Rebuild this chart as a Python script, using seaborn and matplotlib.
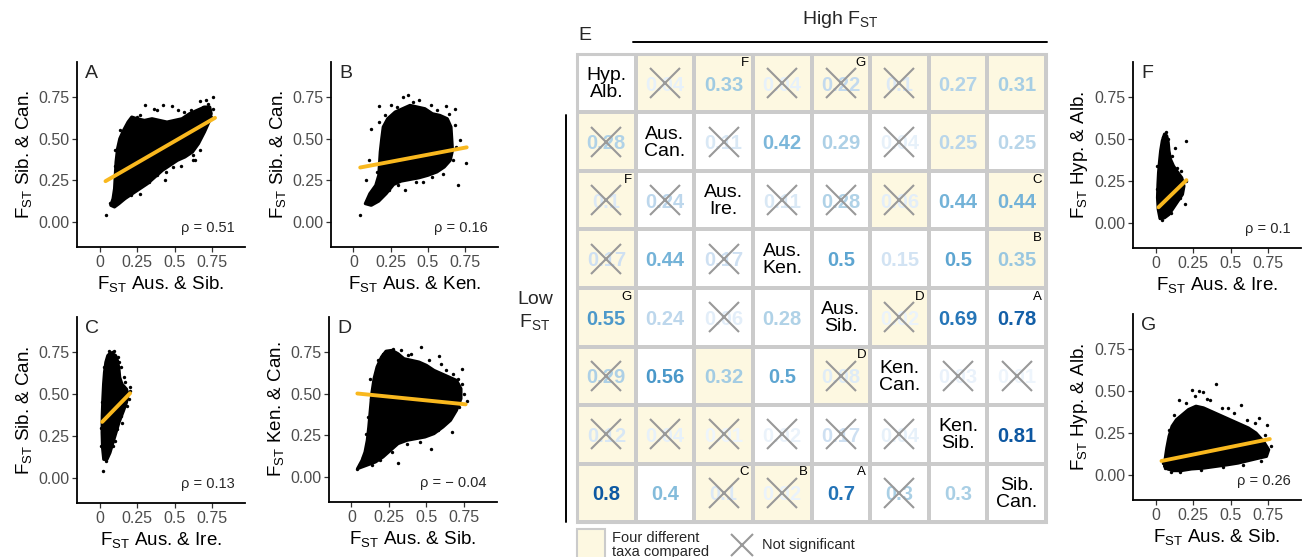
import numpy as np
import pandas as pd
import matplotlib
matplotlib.use("Agg")
import matplotlib.pyplot as plt
import seaborn as sns
from matplotlib.colors import ListedColormap
from matplotlib.patches import Rectangle
from matplotlib.lines import Line2D

# ---------------- data: comparison matrix (panel E) ----------------
pair_labels = ["Hyp.\nAlb.", "Aus.\nCan.", "Aus.\nIre.", "Aus.\nKen.",
               "Aus.\nSib.", "Ken.\nCan.", "Ken.\nSib.", "Sib.\nCan."]
nan = np.nan
rho_values = [
    [nan, 0.04, 0.33, 0.04, 0.22, 0.1, 0.27, 0.31],
    [0.28, nan, 0.11, 0.42, 0.29, 0.04, 0.25, 0.25],
    [0.1, 0.24, nan, 0.11, 0.28, 0.06, 0.44, 0.44],
    [0.17, 0.44, 0.17, nan, 0.5, 0.15, 0.5, 0.35],
    [0.55, 0.24, 0.06, 0.28, nan, 0.02, 0.69, 0.78],
    [0.29, 0.56, 0.32, 0.5, 0.08, nan, 0.03, 0.01],
    [0.12, 0.04, 0.01, 0.02, 0.17, 0.04, nan, 0.81],
    [0.8, 0.4, 0.1, 0.02, 0.7, 0.3, 0.3, nan],
]
not_significant = [
    [0, 1, 0, 1, 1, 1, 0, 0],
    [1, 0, 1, 0, 0, 1, 0, 0],
    [1, 1, 0, 1, 1, 1, 0, 0],
    [1, 0, 1, 0, 0, 0, 0, 0],
    [0, 0, 1, 0, 0, 1, 0, 0],
    [1, 0, 0, 0, 1, 0, 1, 1],
    [1, 1, 1, 1, 1, 1, 0, 0],
    [0, 0, 1, 1, 0, 1, 0, 0],
]
four_taxa = [
    [0, 1, 1, 1, 1, 1, 1, 1],
    [1, 0, 0, 0, 0, 0, 1, 0],
    [1, 0, 0, 0, 0, 1, 0, 1],
    [1, 0, 0, 0, 0, 0, 0, 1],
    [1, 0, 0, 0, 0, 1, 0, 0],
    [1, 0, 1, 0, 1, 0, 0, 0],
    [1, 1, 1, 0, 0, 0, 0, 0],
    [1, 0, 1, 1, 0, 0, 0, 0],
]
panel_tags = {(0, 2): "F", (0, 4): "G", (2, 0): "F", (2, 7): "C", (3, 7): "B",
              (4, 0): "G", (4, 5): "D", (4, 7): "A", (5, 4): "D",
              (7, 2): "C", (7, 3): "B", (7, 4): "A"}

# ---------------- data: scatter panels (dense-cloud outline, sparse edge points, fitted line) ----------------
A_cloud_x = [0.075, 0.09, 0.10, 0.105, 0.11, 0.12, 0.135, 0.16, 0.19, 0.215, 0.25, 0.30, 0.35, 0.40, 0.45,
             0.50, 0.55, 0.60, 0.65, 0.70, 0.735, 0.745, 0.73, 0.70, 0.66, 0.62, 0.57, 0.52, 0.47, 0.42,
             0.37, 0.32, 0.27, 0.22, 0.17, 0.13, 0.10]
A_cloud_y = [0.10, 0.14, 0.20, 0.28, 0.36, 0.44, 0.50, 0.55, 0.60, 0.63, 0.62, 0.61, 0.62, 0.61, 0.60,
             0.61, 0.62, 0.65, 0.67, 0.69, 0.69, 0.65, 0.60, 0.54, 0.47, 0.42, 0.39, 0.37, 0.34, 0.31,
             0.27, 0.23, 0.20, 0.17, 0.14, 0.11, 0.09]
A_pts_x = [0.04, 0.073, 0.194, 0.305, 0.426, 0.481, 0.669, 0.757, 0.713, 0.625, 0.437, 0.27, 0.106, 0.58,
           0.117, 0.36, 0.52, 0.25, 0.62, 0.27, 0.38, 0.56, 0.61, 0.69, 0.72, 0.67, 0.635, 0.546, 0.49,
           0.38, 0.227, 0.16, 0.117, 0.084, 0.095, 0.106, 0.139, 0.21, 0.33, 0.44, 0.64, 0.74, 0.755]
A_pts_y = [0.042, 0.115, 0.605, 0.70, 0.70, 0.694, 0.724, 0.75, 0.73, 0.373, 0.25, 0.17, 0.333, 0.413,
           0.155, 0.68, 0.67, 0.63, 0.40, 0.64, 0.67, 0.66, 0.67, 0.69, 0.71, 0.43, 0.373, 0.333, 0.33,
           0.284, 0.214, 0.145, 0.125, 0.105, 0.274, 0.433, 0.55, 0.16, 0.24, 0.30, 0.49, 0.63, 0.68]
A_fit_x = [0.04, 0.77]
A_fit_y = [0.245, 0.625]

B_cloud_x = [0.08, 0.11, 0.15, 0.17, 0.175, 0.18, 0.19, 0.20, 0.23, 0.28, 0.33, 0.38, 0.43, 0.48, 0.53,
             0.58, 0.63, 0.655, 0.66, 0.665, 0.65, 0.61, 0.56, 0.50, 0.44, 0.38, 0.32, 0.27, 0.22, 0.17, 0.12]
B_cloud_y = [0.11, 0.17, 0.22, 0.28, 0.35, 0.42, 0.50, 0.57, 0.62, 0.66, 0.68, 0.70, 0.69, 0.68, 0.65,
             0.64, 0.62, 0.57, 0.50, 0.43, 0.37, 0.33, 0.30, 0.28, 0.265, 0.255, 0.245, 0.225, 0.17, 0.125, 0.10]
B_pts_x = [0.042, 0.116, 0.172, 0.336, 0.368, 0.441, 0.62, 0.683, 0.714, 0.756, 0.704, 0.347, 0.084, 0.105,
           0.25, 0.52, 0.47, 0.21, 0.29, 0.40, 0.56, 0.64, 0.68, 0.69, 0.67, 0.60, 0.53, 0.42, 0.30, 0.24,
           0.13, 0.10, 0.16, 0.19, 0.17]
B_pts_y = [0.042, 0.557, 0.696, 0.75, 0.76, 0.73, 0.694, 0.68, 0.492, 0.353, 0.224, 0.194, 0.254, 0.373,
           0.70, 0.70, 0.24, 0.64, 0.69, 0.72, 0.67, 0.65, 0.58, 0.45, 0.37, 0.29, 0.27, 0.24, 0.22, 0.19,
           0.14, 0.12, 0.30, 0.44, 0.60]
B_fit_x = [0.046, 0.76]
B_fit_y = [0.327, 0.448]

C_cloud_x = [0.028, 0.02, 0.017, 0.018, 0.022, 0.027, 0.033, 0.042, 0.055, 0.072, 0.09, 0.108, 0.12, 0.13,
             0.135, 0.15, 0.18, 0.19, 0.18, 0.16, 0.13, 0.11, 0.09, 0.07, 0.05]
C_cloud_y = [0.11, 0.18, 0.27, 0.37, 0.47, 0.56, 0.63, 0.69, 0.73, 0.745, 0.74, 0.73, 0.70, 0.65,
             0.60, 0.56, 0.53, 0.50, 0.45, 0.40, 0.33, 0.27, 0.21, 0.15, 0.11]
C_pts_x = [0.024, 0.094, 0.133, 0.204, 0.182, 0.105, 0.007, 0.16, 0.15, 0.06, 0.08, 0.12, 0.145, 0.17,
           0.20, 0.195, 0.14, 0.115, 0.09, 0.045, 0.012, 0.014, 0.03]
C_pts_y = [0.04, 0.758, 0.69, 0.54, 0.43, 0.222, 0.192, 0.60, 0.33, 0.755, 0.75, 0.72, 0.66, 0.57,
           0.52, 0.47, 0.37, 0.29, 0.19, 0.10, 0.30, 0.45, 0.66]
C_fit_x = [0.018, 0.204]
C_fit_y = [0.334, 0.505]

D_cloud_x = [0.04, 0.07, 0.09, 0.105, 0.115, 0.125, 0.135, 0.15, 0.17, 0.20, 0.23, 0.27, 0.31, 0.35, 0.40,
             0.45, 0.50, 0.55, 0.60, 0.65, 0.70, 0.73, 0.73, 0.70, 0.66, 0.61, 0.55, 0.49, 0.43, 0.37,
             0.31, 0.26, 0.21, 0.16, 0.10]
D_cloud_y = [0.05, 0.10, 0.15, 0.22, 0.30, 0.40, 0.50, 0.59, 0.66, 0.72, 0.755, 0.76, 0.74, 0.71, 0.70,
             0.69, 0.67, 0.64, 0.62, 0.60, 0.58, 0.53, 0.47, 0.40, 0.34, 0.30, 0.26, 0.24, 0.23, 0.22,
             0.20, 0.16, 0.12, 0.09, 0.07]
D_pts_x = [0.039, 0.311, 0.463, 0.583, 0.735, 0.713, 0.767, 0.67, 0.528, 0.159, 0.126, 0.274, 0.60, 0.40,
           0.10, 0.11, 0.13, 0.18, 0.21, 0.33, 0.38, 0.52, 0.63, 0.68, 0.74, 0.75, 0.72, 0.64, 0.58, 0.46,
           0.37, 0.27, 0.19, 0.14, 0.08, 0.06]
D_pts_y = [0.046, 0.087, 0.78, 0.725, 0.65, 0.586, 0.457, 0.27, 0.17, 0.527, 0.586, 0.768, 0.68, 0.74,
           0.26, 0.36, 0.47, 0.70, 0.74, 0.76, 0.73, 0.70, 0.64, 0.62, 0.56, 0.50, 0.42, 0.34, 0.28, 0.21,
           0.20, 0.15, 0.10, 0.07, 0.12, 0.08]
D_fit_x = [0.039, 0.761]
D_fit_y = [0.501, 0.436]

F_cloud_x = [0.03, 0.018, 0.013, 0.016, 0.02, 0.027, 0.034, 0.045, 0.06, 0.075, 0.085, 0.09, 0.10, 0.12,
             0.15, 0.175, 0.19, 0.18, 0.15, 0.12, 0.09, 0.06]
F_cloud_y = [0.025, 0.08, 0.15, 0.23, 0.30, 0.37, 0.43, 0.49, 0.53, 0.52, 0.48, 0.43, 0.38, 0.34,
             0.30, 0.27, 0.22, 0.17, 0.13, 0.09, 0.05, 0.03]
F_pts_x = [0.2, 0.129, 0.195, 0.14, 0.07, 0.16, 0.05, 0.08, 0.11, 0.17, 0.20, 0.16, 0.10, 0.04, 0.01, 0.012]
F_pts_y = [0.489, 0.446, 0.113, 0.33, 0.545, 0.24, 0.51, 0.50, 0.40, 0.31, 0.25, 0.15, 0.06, 0.02, 0.20, 0.34]
F_fit_x = [0.02, 0.206]
F_fit_y = [0.093, 0.255]

G_cloud_x = [0.06, 0.065, 0.075, 0.09, 0.11, 0.14, 0.18, 0.22, 0.27, 0.32, 0.37, 0.42, 0.47, 0.52, 0.57,
             0.62, 0.67, 0.72, 0.755, 0.74, 0.69, 0.62, 0.55, 0.48, 0.40, 0.32, 0.24, 0.17, 0.12, 0.08]
G_cloud_y = [0.05, 0.10, 0.16, 0.23, 0.29, 0.33, 0.36, 0.39, 0.41, 0.40, 0.38, 0.36, 0.34, 0.32, 0.30,
             0.28, 0.25, 0.20, 0.15, 0.11, 0.10, 0.085, 0.07, 0.06, 0.05, 0.04, 0.035, 0.025, 0.025, 0.035]
G_pts_x = [0.155, 0.24, 0.316, 0.404, 0.57, 0.69, 0.746, 0.062, 0.36, 0.29, 0.48, 0.12, 0.09, 0.20, 0.26,
           0.34, 0.44, 0.52, 0.61, 0.66, 0.73, 0.77, 0.70, 0.58, 0.45, 0.30, 0.16, 0.10, 0.05]
G_pts_y = [0.446, 0.506, 0.496, 0.542, 0.417, 0.337, 0.298, 0.04, 0.446, 0.50, 0.40, 0.36, 0.27, 0.43,
           0.47, 0.45, 0.40, 0.37, 0.33, 0.31, 0.24, 0.17, 0.08, 0.06, 0.045, 0.03, 0.02, 0.015, 0.07]
G_fit_x = [0.04, 0.762]
G_fit_y = [0.083, 0.214]

x_ticks = [0, 0.25, 0.5, 0.75]
x_tick_labels = ["0", "0.25", "0.5", "0.75"]
y_ticks = [0, 0.25, 0.5, 0.75]
y_tick_labels = ["0.00", "0.25", "0.50", "0.75"]

FST = r"F$_{\mathrm{ST}}$"

# ---------------- style ----------------
sns.set_theme(style="ticks")
plt.rcParams["font.family"] = ["Liberation Sans", "DejaVu Sans"]
plt.rcParams["mathtext.fontset"] = "custom"
plt.rcParams["mathtext.rm"] = "Liberation Sans"
plt.rcParams["mathtext.it"] = "Liberation Sans:italic"
plt.rcParams["mathtext.bf"] = "Liberation Sans:bold"

W, H = 1305, 557
fig = plt.figure(figsize=(W / 100, H / 100), dpi=100)


def px_rect(l, t, r, b):
    return [l / W, 1 - b / H, (r - l) / W, (b - t) / H]


def scatter_panel(rect, letter, cx, cy, px_, py_, fx, fy, rho, xlab, ylab):
    ax = fig.add_axes(rect)
    ax.fill(cx, cy, color="black", lw=2.2, ec="black", joinstyle="round", zorder=2)
    sns.scatterplot(x=px_, y=py_, color="black", s=6, linewidth=0, ax=ax, zorder=3)
    sns.lineplot(x=fx, y=fy, color="#f9b81e", lw=2.8, ax=ax, zorder=4)
    ax.set_xlim(-0.15, 0.97)
    ax.set_ylim(-0.15, 0.96)
    ax.set_xticks(x_ticks)
    ax.set_xticklabels(x_tick_labels)
    ax.set_yticks(y_ticks)
    ax.set_yticklabels(y_tick_labels)
    sns.despine(ax=ax)
    for s in ["left", "bottom"]:
        ax.spines[s].set_linewidth(1.3)
        ax.spines[s].set_color("black")
    ax.tick_params(length=3.5, width=0.9, color="#333333", labelsize=11.5,
                   labelcolor="#4d4d4d", pad=2, left=True, bottom=True)
    ax.set_xlabel(FST + " " + xlab, fontsize=13.5, labelpad=3, color="black")
    ax.set_ylabel(FST + " " + ylab, fontsize=13.5, labelpad=3, color="black")
    ax.text(0.05, 0.985, letter, transform=ax.transAxes, fontsize=14, va="top", ha="left")
    ax.text(0.94, 0.065, rho, transform=ax.transAxes, fontsize=10.5, ha="right", va="bottom")
    return ax


scatter_panel(px_rect(77, 62, 245, 247), "A", A_cloud_x, A_cloud_y, A_pts_x, A_pts_y,
              A_fit_x, A_fit_y, "ρ = 0.51", "Aus. & Sib.", "Sib. & Can.")
scatter_panel(px_rect(331, 62, 498, 247), "B", B_cloud_x, B_cloud_y, B_pts_x, B_pts_y,
              B_fit_x, B_fit_y, "ρ = 0.16", "Aus. & Ken.", "Sib. & Can.")
scatter_panel(px_rect(77, 317, 245, 503), "C", C_cloud_x, C_cloud_y, C_pts_x, C_pts_y,
              C_fit_x, C_fit_y, "ρ = 0.13", "Aus. & Ire.", "Sib. & Can.")
scatter_panel(px_rect(329, 317, 497, 502), "D", D_cloud_x, D_cloud_y, D_pts_x, D_pts_y,
              D_fit_x, D_fit_y, "ρ = − 0.04", "Aus. & Sib.", "Ken. & Can.")
scatter_panel(px_rect(1133, 62, 1301, 248), "F", F_cloud_x, F_cloud_y, F_pts_x, F_pts_y,
              F_fit_x, F_fit_y, "ρ = 0.1", "Aus. & Ire.", "Hyp. & Alb.")
scatter_panel(px_rect(1133, 314, 1301, 500), "G", G_cloud_x, G_cloud_y, G_pts_x, G_pts_y,
              G_fit_x, G_fit_y, "ρ = 0.26", "Aus. & Sib.", "Hyp. & Alb.")

# ---------------- panel E: matrix ----------------
axE = fig.add_axes(px_rect(577, 54, 1046, 522))
bg = pd.DataFrame(four_taxa)
sns.heatmap(bg, cmap=ListedColormap(["white", "#fdf8e1"]), vmin=0, vmax=1, cbar=False,
            linewidths=1.6, linecolor="#cbcbcb", xticklabels=False, yticklabels=False,
            square=False, ax=axE)
axE.add_patch(Rectangle((0, 0), 8, 8, fill=False, ec="#cbcbcb", lw=2.2, clip_on=False, zorder=5))
blues = plt.get_cmap("Blues")
n = len(pair_labels)
for i in range(n):
    for j in range(n):
        if i == j:
            axE.text(j + 0.5, i + 0.52, pair_labels[i], ha="center", va="center",
                     fontsize=14, linespacing=1.0, color="black")
            continue
        v = rho_values[i][j]
        col = blues(min(0.04 + v, 1.0))
        axE.text(j + 0.5, i + 0.53, f"{v:g}", ha="center", va="center", fontsize=14.5,
                 fontweight="bold", color=col, zorder=3)
        if not_significant[i][j]:
            axE.plot([j + 0.5], [i + 0.5], marker="x", ms=22, mew=1.5, color="#999999", zorder=4)
        if (i, j) in panel_tags:
            axE.text(j + 0.93, i + 0.05, panel_tags[(i, j)], ha="right", va="top",
                     fontsize=9.5, color="black", zorder=5)

# annotations around panel E
fig.text(578 / W, 1 - 36 / H, "E", fontsize=14, ha="left", va="center")
fig.text(840 / W, 1 - 19 / H, "High " + FST, fontsize=14, ha="center", va="center")
fig.add_artist(Line2D([633 / W, 1047 / W], [1 - 42 / H, 1 - 42 / H], color="black", lw=1.4))
fig.text(535 / W, 1 - 299 / H, "Low", fontsize=14, ha="center", va="center")
fig.text(535 / W, 1 - 322 / H, FST, fontsize=14, ha="center", va="center")
fig.add_artist(Line2D([566 / W, 566 / W], [1 - 115 / H, 1 - 522 / H], color="black", lw=1.4))

# legend
fig.add_artist(Rectangle((577 / W, 1 - 560 / H), 28 / W, 31 / H, fc="#fdf8e1", ec="#cbcbcb",
                         lw=1.5, transform=fig.transFigure))
fig.text(612 / W, 1 - 538 / H, "Four different", fontsize=10.5, ha="left", va="center")
fig.text(612 / W, 1 - 552 / H, "taxa compared", fontsize=10.5, ha="left", va="center")
fig.add_artist(Line2D([742 / W], [1 - 545 / H], marker="x", ms=16, mew=1.5, color="#999999",
                      transform=fig.transFigure))
fig.text(762 / W, 1 - 545 / H, "Not significant", fontsize=10.5, ha="left", va="center")

fig.savefig("out.png", dpi=100)
